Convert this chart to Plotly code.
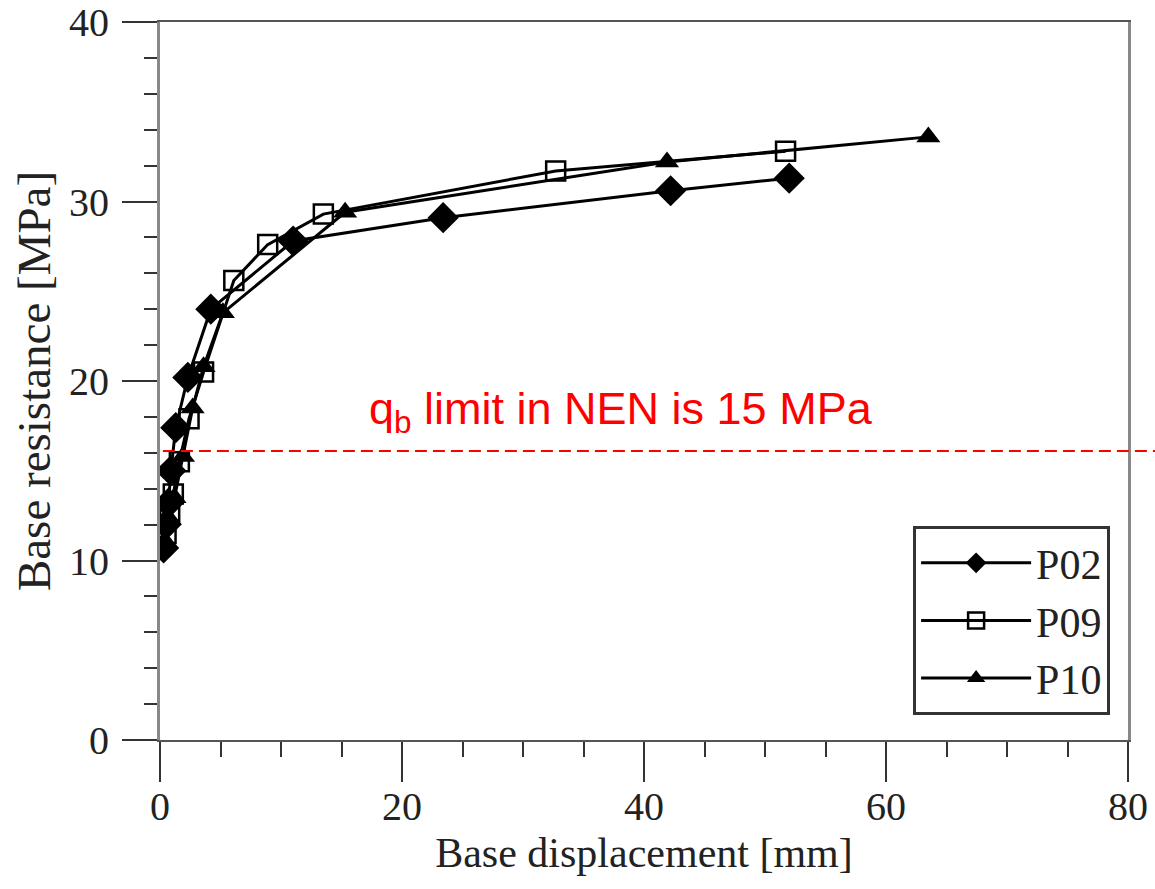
import plotly.graph_objects as go

# Data
p02_x = [0.3, 0.5, 0.7, 0.9, 1.3, 2.3, 4.2, 11.0, 23.4, 42.2, 52.0]
p02_y = [10.7, 12.0, 13.2, 15.0, 17.4, 20.2, 24.0, 27.8, 29.1, 30.6, 31.3]

p09_x = [0.5, 0.8, 1.1, 1.6, 2.4, 3.6, 6.1, 8.9, 13.5, 32.7, 51.7]
p09_y = [11.5, 12.7, 13.7, 15.5, 17.9, 20.5, 25.6, 27.6, 29.3, 31.7, 32.8]

p10_x = [0.5, 0.8, 1.2, 1.9, 2.7, 3.6, 5.2, 15.3, 41.9, 63.5]
p10_y = [11.0, 12.3, 13.5, 15.8, 18.5, 20.8, 23.8, 29.4, 32.2, 33.6]

limit_y = 16.1
limit_text = "q<sub>b</sub> limit in NEN is 15 MPa"

x_ticks = [0, 20, 40, 60, 80]
y_ticks = [0, 10, 20, 30, 40]

fig = go.Figure()
fig.add_trace(go.Scatter(x=p02_x, y=p02_y, name="P02", mode="lines+markers",
                         line=dict(color="black", width=3),
                         marker=dict(symbol="diamond", size=24, color="black")))
fig.add_trace(go.Scatter(x=p09_x, y=p09_y, name="P09", mode="lines+markers",
                         line=dict(color="black", width=3),
                         marker=dict(symbol="square-open", size=19, color="black",
                                     line=dict(width=2.5, color="black"))))
fig.add_trace(go.Scatter(x=p10_x, y=p10_y, name="P10", mode="lines+markers",
                         line=dict(color="black", width=3),
                         marker=dict(symbol="triangle-up", size=21, color="black")))

fig.add_shape(type="line", xref="paper", yref="y", x0=0.003, x1=1.03,
              y0=limit_y, y1=limit_y,
              line=dict(color="red", width=2, dash="12px,6px"))
fig.add_annotation(x=38.1, y=18.3, xref="x", yref="y", text=limit_text,
                   showarrow=False, font=dict(family="Liberation Sans", size=45, color="red"))

serif = "Liberation Serif"
fig.update_layout(
    width=1155, height=889,
    margin=dict(l=160, r=27, t=22, b=149, autoexpand=False),
    paper_bgcolor="white", plot_bgcolor="white",
    font=dict(family=serif, color="#222"),
    showlegend=True,
    legend=dict(x=0.778, y=0.298, xanchor="left", yanchor="top",
                bgcolor="white", bordercolor="#333", borderwidth=3,
                font=dict(family=serif, size=42, color="#222"),
                itemwidth=110, tracegroupgap=0),
    xaxis=dict(range=[0, 80], tickvals=x_ticks, ticks="outside", ticklen=40,
               tickwidth=2, tickcolor="#333", automargin=False, ticklabelstandoff=-10,
               ticklabeloverflow="allow",
               minor=dict(dtick=5, ticks="outside", ticklen=15, tickwidth=1.5, tickcolor="#333"),
               showgrid=False, zeroline=False, showline=True, linecolor="#555", linewidth=2,
               mirror=True, tickfont=dict(family=serif, size=40, color="#222"),
               title=dict(text="Base displacement [mm]", standoff=10,
                          font=dict(family=serif, size=42, color="#222"))),
    yaxis=dict(range=[0, 40], tickvals=y_ticks, ticks="outside", ticklen=35,
               tickwidth=2, tickcolor="#333", automargin=False, ticklabelstandoff=5,
               ticklabeloverflow="allow",
               minor=dict(dtick=2, ticks="outside", ticklen=13, tickwidth=1.5, tickcolor="#333"),
               showgrid=False, zeroline=False, showline=True, linecolor="#888", linewidth=3,
               mirror=True, tickfont=dict(family=serif, size=40, color="#222"),
               title=dict(text="Base resistance [MPa]", standoff=4,
                          font=dict(family=serif, size=47, color="#222"))),
)

fig.write_html("out.html", config={"displayModeBar": False},
               post_script="document.body.style.margin='0px';")
